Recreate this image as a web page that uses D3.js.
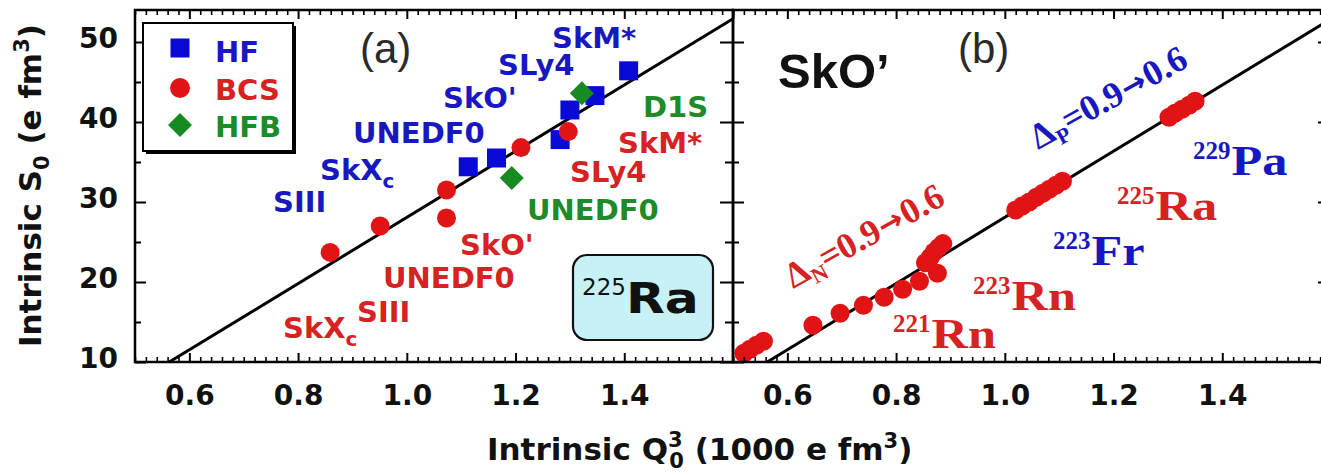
<!DOCTYPE html>
<html><head><meta charset="utf-8">
<script src="https://cdn.jsdelivr.net/npm/d3@7"></script>
<style>html,body{margin:0;padding:0;background:#fff;} svg{display:block} text{white-space:pre}</style>
</head><body><svg id="c" width="1321" height="474"></svg>
<script>
// ---------------- data ----------------
const xTickValues = [0.6, 0.8, 1.0, 1.2, 1.4];
const yTickValues = [10, 20, 30, 40, 50];
const legendNames = ["HF", "BCS", "HFB"];

// panel (a): 225Ra, different functionals
const hfQ  = [1.113, 1.165, 1.282, 1.300, 1.346, 1.408];
const hfS  = [34.4, 35.5, 37.8, 41.5, 43.3, 46.4];
const bcsQ = [0.859, 0.951, 1.073, 1.073, 1.210, 1.297];
const bcsS = [23.7, 27.0, 28.0, 31.5, 36.8, 38.8];
const hfbQ = [1.193, 1.322];
const hfbS = [33.0, 43.6];

// straight reference line (both panels)
const fitQ = [0.563, 1.6];
const fitS = [10, 52.9];

// panel (b): SkO', pairing strength 0.9 -> 0.6
const bGroup1Q = [0.520, 0.531, 0.543, 0.556];
const bGroup1S = [11.1, 11.6, 12.1, 12.6];
const bGroup2Q = [0.647, 0.697, 0.740, 0.778, 0.812, 0.843, 0.876, 0.854, 0.863, 0.870, 0.878, 0.886];
const bGroup2S = [14.6, 16.1, 17.1, 18.1, 19.1, 20.1, 21.1, 22.4, 23.1, 23.75, 24.3, 24.8];
const bGroup3Q = [1.020, 1.032, 1.045, 1.058, 1.070, 1.082, 1.094, 1.106];
const bGroup3S = [29.0, 29.5, 30.0, 30.6, 31.1, 31.6, 32.1, 32.6];
const bGroup4Q = [1.302, 1.313, 1.326, 1.339, 1.350];
const bGroup4S = [40.6, 41.1, 41.6, 42.1, 42.6];

// ---------------- drawing ----------------
const svg = d3.select("#c");
const xA = d3.scaleLinear().domain([0.5, 1.6]).range([135, 733]);
const xB = d3.scaleLinear().domain([0.5, 1.6]).range([733, 1331]);
const y  = d3.scaleLinear().domain([10, 54]).range([362, 10]);

const SANS = "DejaVu Sans", HEL = "Liberation Sans", SERIF = "Liberation Serif";
const BLUE = "#0a0ad6", RED = "#e01414", GREEN = "#178a22";
const TBLUE = "#1818c0", TRED = "#d62222", TGREEN = "#1e8a28";

function runText(g, x0, y0, pieces, base) {
  let x = x0, lastStart = x0;
  pieces.forEach(p => {
    const px = (p.stack ? lastStart : x) + (p.dx || 0);
    const t = g.append("text").attr("x", px).attr("y", y0 + (p.dy || 0))
      .attr("font-family", p.family || base.family)
      .attr("font-size", p.size || base.size)
      .attr("font-weight", p.weight || base.weight)
      .attr("fill", p.fill || base.fill).text(p.t);
    const w = t.node().getComputedTextLength();
    if (p.stack) { x = Math.max(x, px + w); }
    else { lastStart = px; x = px + w; }
  });
}
function label(x, yy, pieces, base, sx) {
  const g = svg.append("g").attr("transform", `translate(${x},${yy}) scale(${sx || 1},1)`);
  runText(g, 0, 0, pieces, base);
  return g;
}

const minorX = d3.range(0.5, 1.6001, 0.02).filter(v => !xTickValues.some(t => Math.abs(t - v) < 1e-6));
const majorXAll = [0.6, 0.8, 1.0, 1.2, 1.4, 1.6];
const minorY = [15, 25, 35, 45];

function styleAxis(g) {
  g.select(".domain").remove();
  g.selectAll("line").attr("stroke", "#000").attr("stroke-width", 2);
}

function panelAxes(x, showYLabels) {
  const [x0, x1] = x.range();
  const b = svg.append("g").attr("transform", `translate(0,362)`)
    .call(d3.axisBottom(x).tickValues(xTickValues).tickSize(-9).tickPadding(23).tickFormat(d3.format(".1f")));
  styleAxis(b);
  b.selectAll("text").attr("font-family", SANS).attr("font-weight", "bold").attr("font-size", 28).attr("fill", "#111");
  const bm = svg.append("g").attr("transform", `translate(0,362)`)
    .call(d3.axisBottom(x).tickValues(minorX).tickSize(-5).tickFormat(""));
  styleAxis(bm); bm.selectAll("line").attr("stroke-width", 1.6);
  const t = svg.append("g").attr("transform", `translate(0,10)`)
    .call(d3.axisTop(x).tickValues(majorXAll).tickSize(-9).tickFormat(""));
  styleAxis(t);
  const tm = svg.append("g").attr("transform", `translate(0,10)`)
    .call(d3.axisTop(x).tickValues(minorX).tickSize(-5).tickFormat(""));
  styleAxis(tm); tm.selectAll("line").attr("stroke-width", 1.6);
  const l = svg.append("g").attr("transform", `translate(${x0},0)`)
    .call(d3.axisLeft(y).tickValues(yTickValues).tickSize(-11).tickPadding(17).tickFormat(d3.format("d")));
  styleAxis(l);
  if (showYLabels) {
    l.selectAll("text").attr("font-family", SANS).attr("font-weight", "bold").attr("font-size", 28).attr("fill", "#111").attr("dy", "0.2em");
  } else l.selectAll("text").remove();
  const lm = svg.append("g").attr("transform", `translate(${x0},0)`)
    .call(d3.axisLeft(y).tickValues(minorY).tickSize(-6).tickFormat(""));
  styleAxis(lm);
  const r = svg.append("g").attr("transform", `translate(${x1},0)`)
    .call(d3.axisRight(y).tickValues(yTickValues).tickSize(-13).tickFormat(""));
  styleAxis(r);
  const rm = svg.append("g").attr("transform", `translate(${x1},0)`)
    .call(d3.axisRight(y).tickValues(minorY).tickSize(-8).tickFormat(""));
  styleAxis(rm);
  svg.append("rect").attr("x", x0).attr("y", 10).attr("width", x1 - x0).attr("height", 352)
    .attr("fill", "none").attr("stroke", "#000").attr("stroke-width", 2.5);
}

function fitLineDraw(x) {
  svg.append("line")
    .attr("x1", x(fitQ[0])).attr("y1", y(fitS[0]))
    .attr("x2", x(fitQ[1])).attr("y2", y(fitS[1]))
    .attr("stroke", "#000").attr("stroke-width", 3);
}

const sq = d3.symbol().type(d3.symbolSquare).size(19 * 19);
const dm = d3.symbol().type(d3.symbolSquare).size(17 * 17);

// ---- panel (a)
fitLineDraw(xA);
svg.append("g").selectAll("path").data(hfQ.map((q, i) => [q, hfS[i]])).join("path")
  .attr("d", sq).attr("transform", d => `translate(${xA(d[0])},${y(d[1])})`).attr("fill", BLUE);
svg.append("g").selectAll("circle").data(bcsQ.map((q, i) => [q, bcsS[i]])).join("circle")
  .attr("cx", d => xA(d[0])).attr("cy", d => y(d[1])).attr("r", 9.5).attr("fill", RED);
svg.append("g").selectAll("path").data(hfbQ.map((q, i) => [q, hfbS[i]])).join("path")
  .attr("d", dm).attr("transform", d => `translate(${xA(d[0])},${y(d[1])}) rotate(45)`).attr("fill", GREEN);

// ---- panel (b)
fitLineDraw(xB);
const bPts = [];
[[bGroup1Q, bGroup1S], [bGroup2Q, bGroup2S], [bGroup3Q, bGroup3S], [bGroup4Q, bGroup4S]]
  .forEach(([qs, ss]) => qs.forEach((q, i) => bPts.push([q, ss[i]])));
svg.append("g").selectAll("circle").data(bPts).join("circle")
  .attr("cx", d => xB(d[0])).attr("cy", d => y(d[1])).attr("r", 9.5).attr("fill", RED);

panelAxes(xA, true);
panelAxes(xB, false);

// ---- labels panel (a)
const LB = { family: SANS, size: 29, weight: "bold" };
const annotA = [
  { x: 273, y: 212, c: TBLUE, p: [{ t: "SIII" }] },
  { x: 320, y: 180, c: TBLUE, p: [{ t: "SkX" }, { t: "c", size: 20, dy: 8 }] },
  { x: 353, y: 143, c: TBLUE, p: [{ t: "UNEDF0" }] },
  { x: 443, y: 108, c: TBLUE, p: [{ t: "SkO'" }] },
  { x: 498, y: 75, c: TBLUE, p: [{ t: "SLy4" }] },
  { x: 552, y: 48, c: TBLUE, p: [{ t: "SkM*" }] },
  { x: 283, y: 338, c: TRED, p: [{ t: "SkX" }, { t: "c", size: 20, dy: 8 }] },
  { x: 357, y: 322, c: TRED, p: [{ t: "SIII" }] },
  { x: 383, y: 288, c: TRED, p: [{ t: "UNEDF0" }] },
  { x: 460, y: 255, c: TRED, p: [{ t: "SkO'" }] },
  { x: 570, y: 182, c: TRED, p: [{ t: "SLy4" }] },
  { x: 618, y: 153, c: TRED, p: [{ t: "SkM*" }] },
  { x: 643, y: 117, c: TGREEN, p: [{ t: "D1S" }] },
  { x: 527, y: 220, c: TGREEN, p: [{ t: "UNEDF0" }] }
];
annotA.forEach(a => label(a.x, a.y, a.p, Object.assign({}, LB, { fill: a.c })));

// (a) and (b)
label(360, 63, [{ t: "(a)" }], { family: HEL, size: 42, weight: "normal", fill: "#2a2a2a" });
label(958, 63, [{ t: "(b)" }], { family: HEL, size: 42, weight: "normal", fill: "#2a2a2a" });

// legend
svg.append("rect").attr("x", 146).attr("y", 26).attr("width", 150).attr("height", 128).attr("fill", "#000");
svg.append("rect").attr("x", 143).attr("y", 23).attr("width", 150).attr("height", 128)
  .attr("fill", "#fff").attr("stroke", "#000").attr("stroke-width", 2);
const legY = [48, 88, 125];
const legTY = [62, 100, 137];
const legCol = [TBLUE, TRED, TGREEN];
svg.append("path").attr("d", sq).attr("transform", `translate(180,${legY[0]})`).attr("fill", BLUE);
svg.append("circle").attr("cx", 180).attr("cy", legY[1]).attr("r", 10).attr("fill", RED);
svg.append("path").attr("d", dm).attr("transform", `translate(180,${legY[2]}) rotate(45)`).attr("fill", GREEN);
legendNames.forEach((n, i) => label(215, legTY[i], [{ t: n }], Object.assign({}, LB, { fill: legCol[i] })));

// 225Ra box
svg.append("rect").attr("x", 573).attr("y", 255).attr("width", 140).attr("height", 85).attr("rx", 14)
  .attr("fill", "#c8f1f6").attr("stroke", "#111").attr("stroke-width", 2.2);
label(582, 295, [{ t: "225" }], { family: SANS, size: 23, weight: "normal", fill: "#111" });
label(626, 313, [{ t: "Ra" }], { family: SANS, size: 42, weight: "bold", fill: "#111" }, 1.2);

// panel (b) labels
label(778, 88, [{ t: "SkO\u2019" }], { family: HEL, size: 49, weight: "bold", fill: "#111" });
const SB = { family: SERIF, weight: "bold" };
const isoLabels = [
  { x: 1193, y: 175, a: "229", e: "Pa", c: TBLUE },
  { x: 1117, y: 220, a: "225", e: "Ra", c: TRED },
  { x: 1053, y: 265, a: "223", e: "Fr", c: TBLUE },
  { x: 973, y: 310, a: "223", e: "Rn", c: TRED },
  { x: 893, y: 348, a: "221", e: "Rn", c: TRED }
];
isoLabels.forEach(l => {
  label(l.x, l.y - 16, [{ t: l.a }], Object.assign({}, SB, { size: 25, fill: l.c }));
  const tmp = svg.append("text").attr("font-family", SERIF).attr("font-weight", "bold").attr("font-size", 25).text(l.a);
  const w = tmp.node().getComputedTextLength(); tmp.remove();
  label(l.x + w + 1, l.y, [{ t: l.e }], Object.assign({}, SB, { size: 42, fill: l.c }), 1.2);
});

// rotated delta labels
function rotLabel(x, yy, ang, sub, col) {
  const g = svg.append("g").attr("transform", `translate(${x},${yy}) rotate(${ang})`);
  runText(g, 0, 0, [
    { t: "\u0394" }, { t: sub, size: 22, dy: 7 }, { t: "=0.9" },
    { t: "\u2192", family: SANS, size: 30, dy: -1, dx: 1 }, { t: "0.6", dx: 1 }
  ], { family: SERIF, size: 36, weight: "bold", fill: col });
}
rotLabel(793, 289, -29, "N", TRED);
rotLabel(1038, 150, -29, "P", TBLUE);

// x-axis title: one text element, stacked sub/superscript via tspans
const xt = svg.append("text").attr("x", 487).attr("y", 460)
  .attr("font-family", SANS).attr("font-size", 31).attr("font-weight", "bold").attr("fill", "#111");
xt.append("tspan").text("Intrinsic Q");
const supW = 0.636 * 21;
xt.append("tspan").attr("font-size", 21).attr("dy", -13).text("3");
xt.append("tspan").attr("font-size", 21).attr("dx", -supW).attr("dy", 21).text("0");
xt.append("tspan").attr("dy", -8).text(" (1000 e fm");
xt.append("tspan").attr("font-size", 21).attr("dy", -12).text("3");
xt.append("tspan").attr("dy", 12).text(")");

// y-axis title
const yt = svg.append("text").attr("transform", "translate(41,347) rotate(-90)")
  .attr("font-family", SANS).attr("font-size", 31).attr("font-weight", "bold").attr("fill", "#111");
yt.append("tspan").text("Intrinsic S");
yt.append("tspan").attr("font-size", 21).attr("dy", 8).text("0");
yt.append("tspan").attr("dy", -8).text(" (e fm");
yt.append("tspan").attr("font-size", 21).attr("dy", -12).text("3");
yt.append("tspan").attr("dy", 12).text(")");
</script>
</body></html>
